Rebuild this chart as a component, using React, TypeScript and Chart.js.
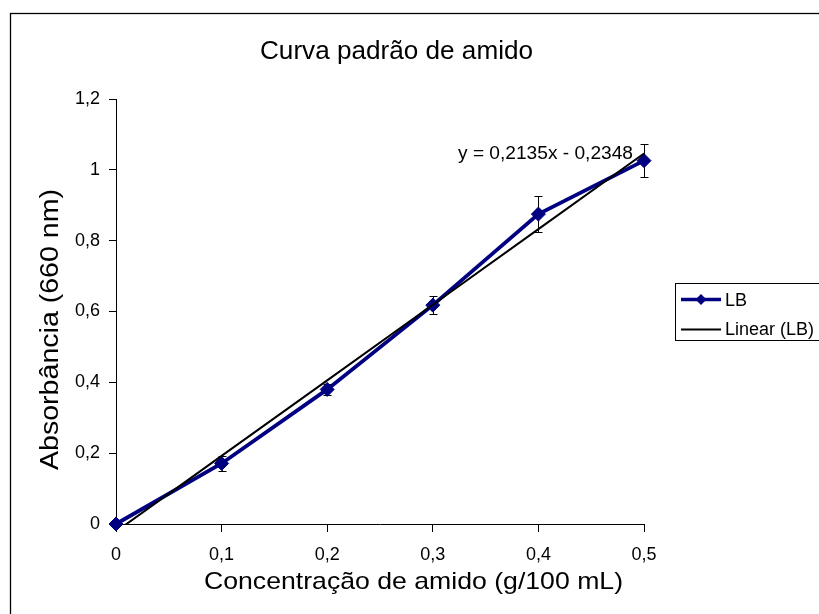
import React, { useEffect, useRef } from 'react';
import { Chart, registerables } from 'chart.js';

Chart.register(...registerables);

const X_LABELS = ['0', '0,1', '0,2', '0,3', '0,4', '0,5'];
const LB_VALUES = [0, 0.171, 0.38, 0.618, 0.875, 1.026];
const LB_ERRORS = [0, 0.021, 0.015, 0.025, 0.051, 0.047];
const Y_TICK_LABELS = ['0', '0,2', '0,4', '0,6', '0,8', '1', '1,2'];
const TREND_SLOPE = 0.2135;
const TREND_INTERCEPT = -0.2348;
const EQUATION_TEXT = 'y = 0,2135x - 0,2348';
const TITLE = 'Curva padrão de amido';
const X_TITLE = 'Concentração de amido (g/100 mL)';
const Y_TITLE = 'Absorbância (660 nm)';
const SERIES_LABEL = 'LB';
const TREND_LABEL = 'Linear (LB)';

const FAMILY = '"Liberation Sans", Arial, sans-serif';
const NAVY = '#000080';

function stretchText(
  ctx: CanvasRenderingContext2D,
  text: string,
  x: number,
  y: number,
  size: number,
  width: number | null,
  rotate = 0
) {
  ctx.save();
  ctx.font = `${size}px ${FAMILY}`;
  const w = ctx.measureText(text).width;
  ctx.translate(x, y);
  if (rotate) ctx.rotate(rotate);
  if (width) ctx.scale(width / w, 1);
  ctx.textAlign = 'left';
  ctx.textBaseline = 'alphabetic';
  ctx.fillStyle = '#000';
  ctx.fillText(text, 0, 0);
  ctx.restore();
}

const decorPlugin = {
  id: 'decor',
  beforeDraw(chart: any) {
    const ctx: CanvasRenderingContext2D = chart.ctx;
    ctx.save();
    ctx.fillStyle = '#fff';
    ctx.fillRect(0, 0, chart.width, chart.height);
    ctx.strokeStyle = '#000';
    ctx.lineWidth = 1.3;
    ctx.strokeRect(10.5, 13.5, chart.width + 40, chart.height + 40);
    ctx.restore();
  },
  beforeDatasetsDraw(chart: any) {
    const ctx: CanvasRenderingContext2D = chart.ctx;
    const xs = chart.scales.x;
    const ys = chart.scales.y;
    ctx.save();
    ctx.strokeStyle = '#000';
    ctx.lineWidth = 1;
    LB_VALUES.forEach((v, i) => {
      const e = LB_ERRORS[i];
      if (!e) return;
      const px = Math.round(xs.getPixelForValue(i)) + 0.5;
      const top = ys.getPixelForValue(v + e);
      const bot = ys.getPixelForValue(v - e);
      ctx.beginPath();
      ctx.moveTo(px, top);
      ctx.lineTo(px, bot);
      ctx.moveTo(px - 4, Math.round(top) + 0.5);
      ctx.lineTo(px + 4, Math.round(top) + 0.5);
      ctx.moveTo(px - 4, Math.round(bot) + 0.5);
      ctx.lineTo(px + 4, Math.round(bot) + 0.5);
      ctx.stroke();
    });
    ctx.restore();
  },
  afterDraw(chart: any) {
    const ctx: CanvasRenderingContext2D = chart.ctx;
    const area = chart.chartArea;
    // chart title
    stretchText(ctx, TITLE, 260, 59, 25, 273);
    // axis titles
    stretchText(ctx, X_TITLE, 204, 589, 24, 419);
    stretchText(ctx, Y_TITLE, 58, 470, 25, 281, -Math.PI / 2);
    // trendline equation
    stretchText(ctx, EQUATION_TEXT, area.left + 342, 159, 18, 175);

    // legend
    const ds = chart.data.datasets;
    ctx.save();
    ctx.strokeStyle = '#000';
    ctx.lineWidth = 1;
    ctx.fillStyle = '#fff';
    ctx.fillRect(675.5, 283.5, 200, 57);
    ctx.strokeRect(675.5, 283.5, 200, 57);
    // LB row
    ctx.strokeStyle = ds[0].borderColor;
    ctx.lineWidth = 3.5;
    ctx.beginPath();
    ctx.moveTo(681, 299.5);
    ctx.lineTo(721, 299.5);
    ctx.stroke();
    ctx.fillStyle = ds[0].backgroundColor;
    ctx.beginPath();
    ctx.moveTo(701, 294);
    ctx.lineTo(706.5, 299.5);
    ctx.lineTo(701, 305);
    ctx.lineTo(695.5, 299.5);
    ctx.closePath();
    ctx.fill();
    // trend row
    ctx.strokeStyle = ds[1].borderColor;
    ctx.lineWidth = 2;
    ctx.beginPath();
    ctx.moveTo(681, 329.5);
    ctx.lineTo(721, 329.5);
    ctx.stroke();
    ctx.restore();
    stretchText(ctx, ds[0].label, 725, 306, 18, null);
    stretchText(ctx, ds[1].label, 725, 335, 18, null);
  },
};

export default function App() {
  const ref = useRef<HTMLCanvasElement | null>(null);

  useEffect(() => {
    if (!ref.current) return;
    const trend = X_LABELS.map((_, i) => TREND_SLOPE * (i + 1) + TREND_INTERCEPT);
    const chart = new Chart(ref.current, {
      type: 'line',
      data: {
        labels: X_LABELS,
        datasets: [
          {
            label: SERIES_LABEL,
            data: LB_VALUES,
            borderColor: NAVY,
            backgroundColor: NAVY,
            borderWidth: 3.8,
            pointStyle: 'rectRot',
            pointRadius: 7,
            pointBorderWidth: 1,
            pointBackgroundColor: NAVY,
            pointBorderColor: NAVY,
            tension: 0,
            clip: false,
            order: 1,
          } as any,
          {
            label: TREND_LABEL,
            data: trend,
            borderColor: '#000',
            backgroundColor: '#000',
            borderWidth: 2,
            pointRadius: 0,
            tension: 0,
            order: 0,
          } as any,
        ],
      },
      options: {
        responsive: false,
        animation: false,
        events: [],
        layout: { padding: { top: 99, right: 175, left: 0, bottom: 0 } },
        plugins: {
          legend: { display: false },
          title: { display: false },
          tooltip: { enabled: false },
        },
        scales: {
          x: {
            type: 'category',
            offset: false,
            grid: { drawOnChartArea: false, drawTicks: true, tickLength: 8, color: '#000' },
            border: { display: true, color: '#000', width: 1 },
            ticks: {
              color: '#000',
              font: { family: FAMILY, size: 18 },
              padding: 12,
              maxRotation: 0,
              autoSkip: false,
            },
            afterFit: (s: any) => {
              s.height = 90;
            },
          },
          y: {
            type: 'linear',
            min: 0,
            max: 1.2,
            grid: { drawOnChartArea: false, drawTicks: true, tickLength: 7, color: '#000' },
            border: { display: true, color: '#000', width: 1 },
            ticks: {
              stepSize: 0.2,
              color: '#000',
              font: { family: FAMILY, size: 18 },
              padding: 9,
              callback: (_v: any, i: number) => Y_TICK_LABELS[i],
            },
            afterFit: (s: any) => {
              s.width = 116;
            },
          },
        },
      },
      plugins: [decorPlugin],
    });
    return () => chart.destroy();
  }, []);

  return (
    <div style={{ position: 'absolute', left: 0, top: 0, width: 819, height: 614 }}>
      <canvas ref={ref} width={819} height={614} style={{ display: 'block' }} />
    </div>
  );
}
